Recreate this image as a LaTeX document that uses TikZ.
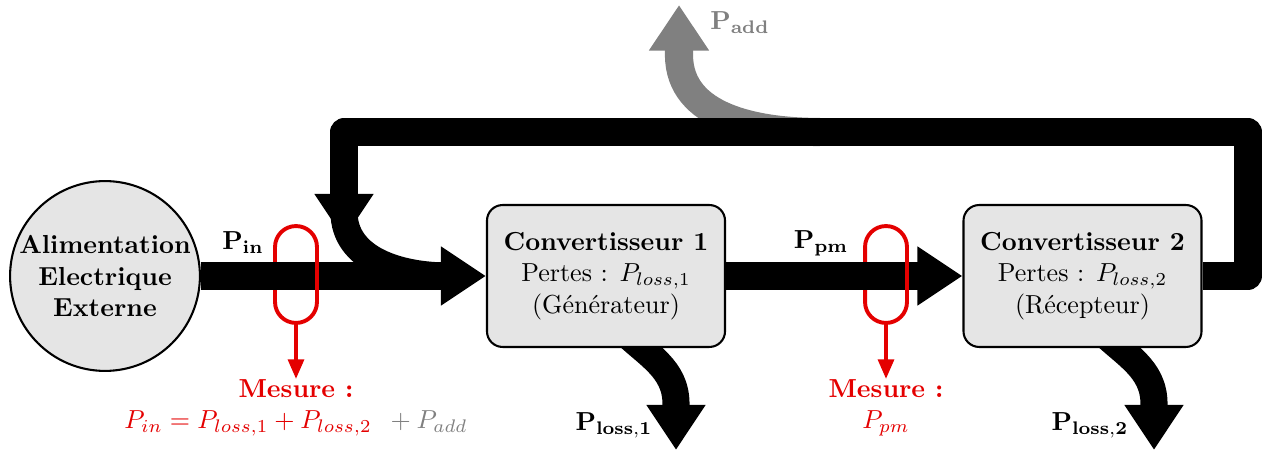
\documentclass[tikz,border=0pt]{standalone}
\usetikzlibrary{arrows.meta}
\pgfdeclarelayer{bg}
\pgfdeclarelayer{mid}
\pgfsetlayers{bg,mid,main}
\definecolor{boxgray}{gray}{0.9}
\definecolor{mred}{RGB}{228,0,0}
\definecolor{addgray}{RGB}{128,128,128}
\begin{document}
\begin{tikzpicture}[x=0.384pt,y=-0.384pt,
  flow/.style={line width=10.4pt},
  flowtip/.style={-{Triangle[width=21.5pt,length=17.3pt]}},
  blk/.style={draw,line width=0.8pt,fill=boxgray,rounded corners=6pt,
    minimum width=91.4pt,minimum height=54.5pt,align=center,inner sep=0pt},
  srcst/.style={circle,draw,line width=0.8pt,fill=boxgray,minimum size=72.9pt,
    inner sep=0pt,align=center,font=\bfseries},
  loopst/.style={draw=mred,line width=1.5pt,minimum width=16.1pt,minimum height=37.2pt,
    rounded corners=8pt,inner sep=0pt,outer sep=0pt},
  redline/.style={draw=mred,line width=1.5pt},
  redtip/.style={-{Triangle[width=6pt,length=7.5pt]}},
  meas/.style={text=mred,align=center,anchor=north,inner sep=0pt}
]
\useasboundingbox (0,0) rectangle (1263,453);

% nodes
\node[srcst] (src) at (105,276) {Alimentation\\Electrique\\Externe};
\node[blk] (c1) at (606,276) {\textbf{Convertisseur 1}\\Pertes : $P_{loss,1}$\\(Générateur)};
\node[blk] (c2) at (1082.5,276) {\textbf{Convertisseur 2}\\Pertes : $P_{loss,2}$\\(Récepteur)};

% labels
\node (lin) at (243,243) {$\mathbf{P_{in}}$};
\node (lpm) at (821,243) {$\mathbf{P_{pm}}$};
\node (ll1) at (614,425) {$\mathbf{P_{loss,1}}$};
\node (ll2) at (1090,425) {$\mathbf{P_{loss,2}}$};
\node[text=addgray] (lad) at (740,23) {$\mathbf{P_{add}}$};

% measures
\node[meas] (m1) at (296,379) {\textbf{Mesure :}\\$P_{in}=P_{loss,1}+P_{loss,2}$\hspace{0.5em}\textcolor{addgray}{${}+P_{add}$}};
\node[meas] (m2) at (886,379) {\textbf{Mesure :}\\$P_{pm}$};

% coordinates
\coordinate (fbturn) at (1248,132);
\coordinate (fbend) at (344,239);
\coordinate (mstart) at (344,212);
\coordinate (mend) at (448,276);
\coordinate (p1a) at (622,330);
\coordinate (p1b) at (676,404);
\coordinate (p1c) at (676,450);
\coordinate (p2a) at (1100,330);
\coordinate (p2b) at (1154,404);
\coordinate (p2c) at (1154,450);
\coordinate (pa) at (820,132);
\coordinate (pb) at (679,55);
\coordinate (pc) at (679,5);

\begin{pgfonlayer}{bg}
  \draw[addgray,line width=10.8pt,-{Triangle[width=21.9pt,length=17.5pt]}]
    (pa) to[out=180,in=-90] (pb) -- (pc);
  \node[loopst] (l1) at (296,274.5) {};
  \node[loopst] (l2) at (886,274.5) {};
\end{pgfonlayer}

\begin{pgfonlayer}{mid}
  \draw[flow,line join=round,flowtip] (c2.east) -| (fbturn) -| (fbend);
  \draw[flow] (mstart) to[out=-90,in=180] (mend);
  \draw[flow,flowtip] (src.east) -- (c1.west);
  \draw[flow,flowtip] (c1.east) -- (c2.west);
  \draw[flow,flowtip] (p1a) to[out=-45,in=90] (p1b) -- (p1c);
  \draw[flow,flowtip] (p2a) to[out=-45,in=90] (p2b) -- (p2c);
\end{pgfonlayer}

% red parts on top
\draw[redline] ([yshift=-8pt]l1.east) -- ([yshift=8pt]l1.east);
\draw[redline] ([yshift=-8pt]l2.east) -- ([yshift=8pt]l2.east);
\draw[redline,redtip] (l1.south) -- (m1.north);
\draw[redline,redtip] (l2.south) -- (m2.north);
\end{tikzpicture}
\end{document}
